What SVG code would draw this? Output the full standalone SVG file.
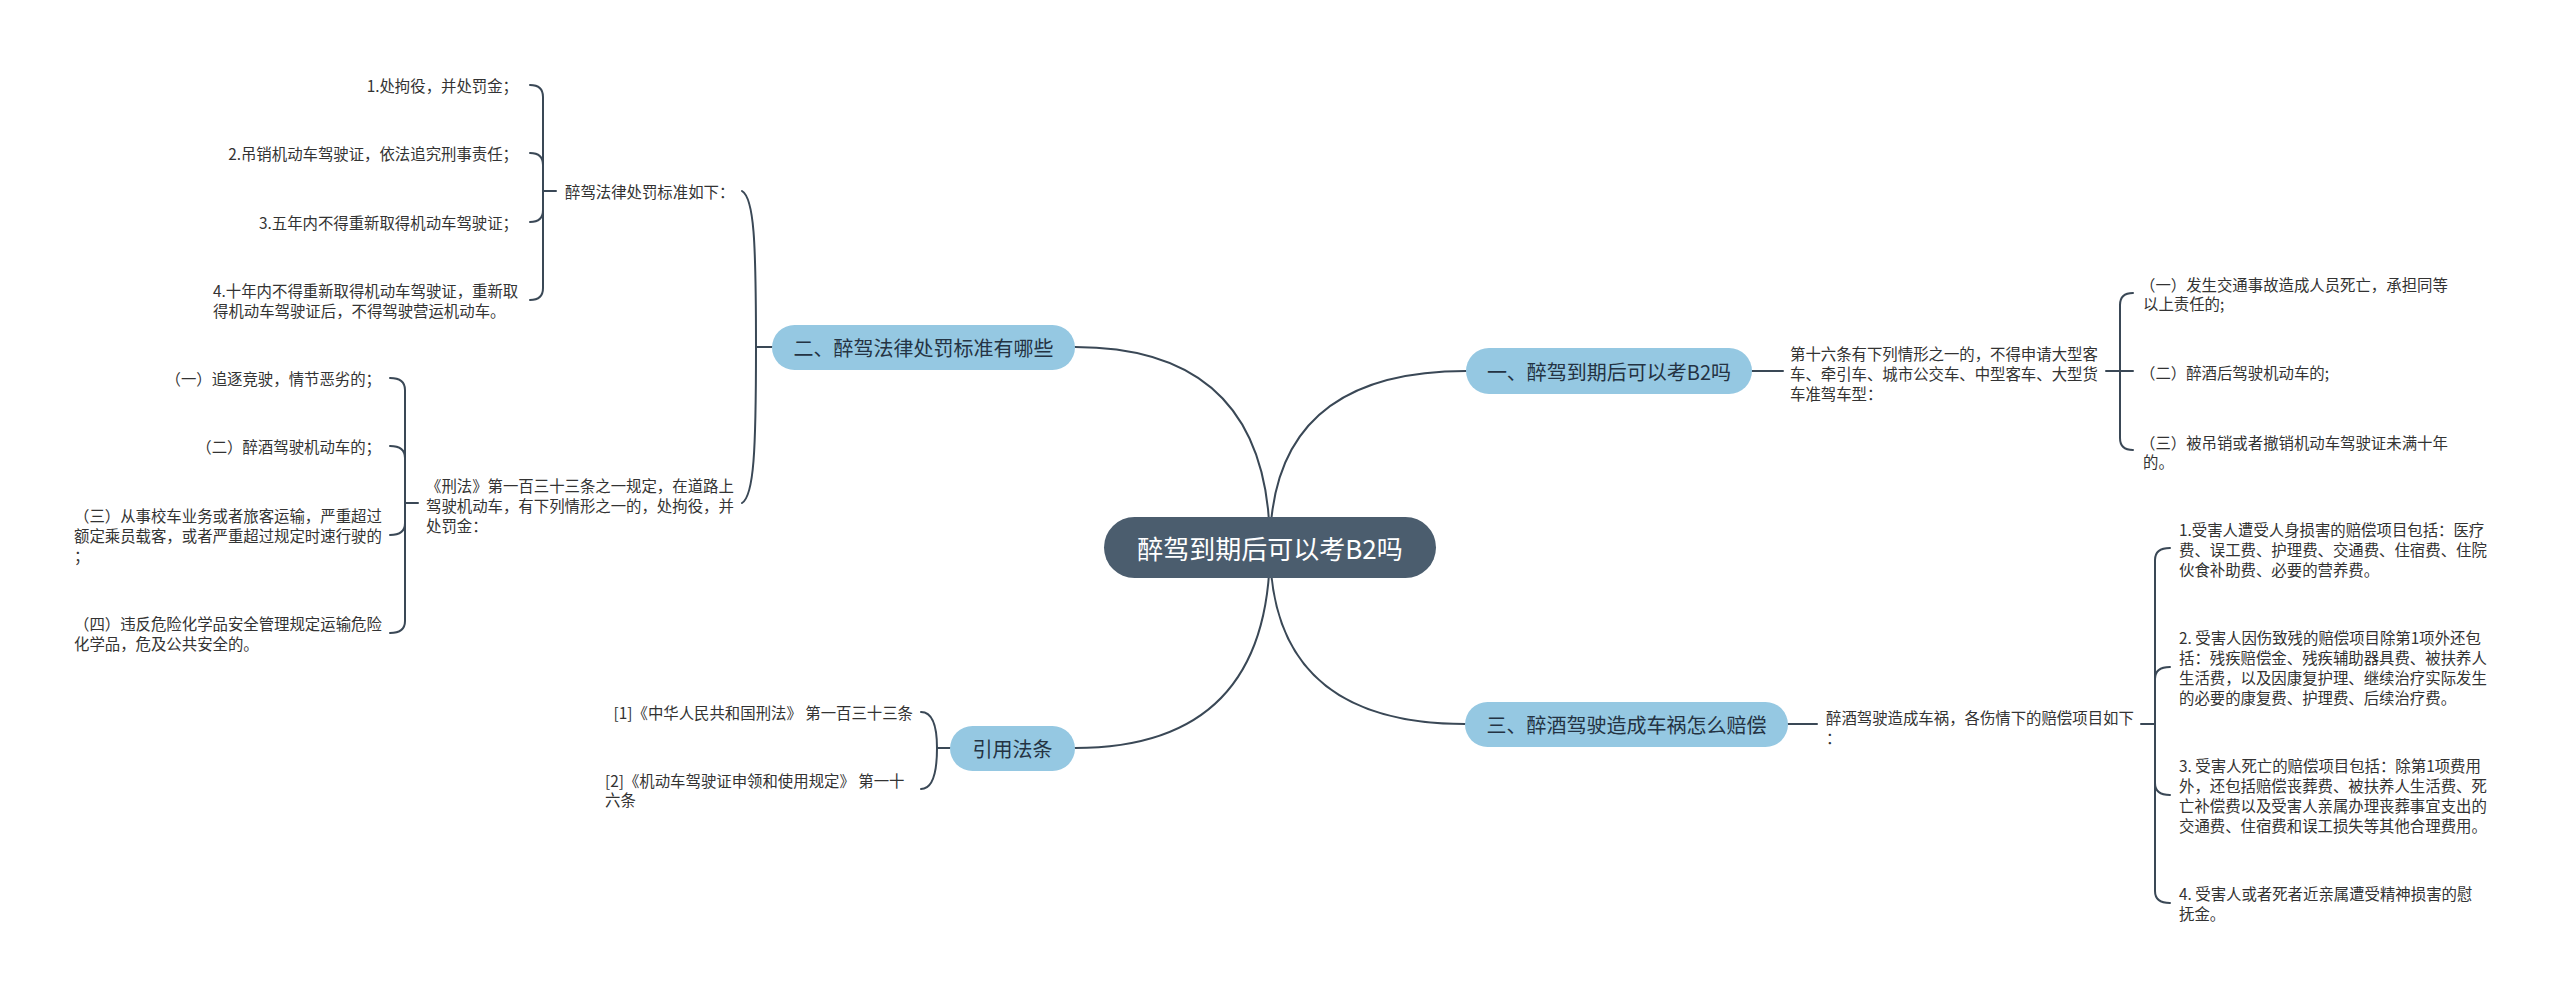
<svg xmlns="http://www.w3.org/2000/svg" width="2560" height="995" viewBox="0 0 2560 995">
<style>
text{font-family:"Noto Sans CJK SC","Noto Sans",sans-serif;dominant-baseline:central}
.leaf{font-size:15.4px;fill:#333}
.r{text-anchor:end}
.br{fill:#95c8e2}
.bt{font-size:20px;fill:#243343;text-anchor:middle}
.ct{font-size:26px;fill:#fff;text-anchor:middle}
.ln{fill:none;stroke:#3a4856;stroke-width:2;stroke-linecap:round}
</style>
<rect width="2560" height="995" fill="#fff"/>
<g id="connectors">
<path class="ln" d="M1270,547 Q1270,347 1075,347"/>
<path class="ln" d="M1270,547 Q1270,371 1466,371"/>
<path class="ln" d="M1270,547 Q1270,724 1465,724"/>
<path class="ln" d="M1270,547 Q1270,748 1075,748"/>
<path class="ln" d="M772,347 H756"/>
<path class="ln" d="M756,347 C756,240 754,198 742,191"/>
<path class="ln" d="M756,347 C756,450 754,496 742,503"/>
<path class="ln" d="M556,191 H543"/>
<path class="ln" d="M543,191 V97 Q543,85 530,85"/>
<path class="ln" d="M543,191 V165 Q543,153 530,153"/>
<path class="ln" d="M543,191 V210 Q543,222 530,222"/>
<path class="ln" d="M543,191 V288 Q543,300 530,300"/>
<path class="ln" d="M418,503 H405"/>
<path class="ln" d="M405,503 V390 Q405,378 390,378"/>
<path class="ln" d="M405,503 V458 Q405,446 390,446"/>
<path class="ln" d="M405,503 V523 Q405,535 390,535"/>
<path class="ln" d="M405,503 V621 Q405,633 390,633"/>
<path class="ln" d="M950,748 H937"/>
<path class="ln" d="M937,748 Q937,712 921,712"/>
<path class="ln" d="M937,748 Q937,789 921,789"/>
<path class="ln" d="M1752,371 H1783"/>
<path class="ln" d="M2106,371 H2133"/>
<path class="ln" d="M2120,371 V305 Q2120,293 2133,293"/>
<path class="ln" d="M2120,371 V438 Q2120,450 2133,450"/>
<path class="ln" d="M1788,724 H1817"/>
<path class="ln" d="M2141,724 H2155"/>
<path class="ln" d="M2155,724 V560 Q2155,548 2170,548"/>
<path class="ln" d="M2155,724 V679 Q2155,667 2170,667"/>
<path class="ln" d="M2155,724 V783 Q2155,795 2170,795"/>
<path class="ln" d="M2155,724 V891 Q2155,903 2170,903"/>
</g>
<g id="center">
<rect x="1104" y="517" width="332" height="61" rx="30.5" fill="#4b5d6e"/>
<text class="ct" x="1270" y="547.5">醉驾到期后可以考B2吗</text>
</g>
<g id="b1">
<rect class="br" x="1466" y="348" width="286" height="46" rx="23"/>
<text class="bt" x="1609" y="371">一、醉驾到期后可以考B2吗</text>
</g>
<g id="b2">
<rect class="br" x="772" y="325" width="303" height="45" rx="22.5"/>
<text class="bt" x="923.5" y="347.5">二、醉驾法律处罚标准有哪些</text>
</g>
<g id="b3">
<rect class="br" x="1465" y="702" width="323" height="45" rx="22.5"/>
<text class="bt" x="1626.5" y="724.5">三、醉酒驾驶造成车祸怎么赔偿</text>
</g>
<g id="b4">
<rect class="br" x="950" y="726" width="125" height="45" rx="22.5"/>
<text class="bt" x="1012.5" y="748.5">引用法条</text>
</g>
<g id="n-b2-a">
<text class="leaf" x="565" y="191">醉驾法律处罚标准如下：</text>
</g>
<g id="n-b2-a1"><text class="leaf r" x="518" y="85">1.处拘役，并处罚金；</text></g>
<g id="n-b2-a2"><text class="leaf r" x="518" y="153">2.吊销机动车驾驶证，依法追究刑事责任；</text></g>
<g id="n-b2-a3"><text class="leaf r" x="518" y="222">3.五年内不得重新取得机动车驾驶证；</text></g>
<g id="n-b2-a4"><text class="leaf"><tspan x="213" y="290">4.十年内不得重新取得机动车驾驶证，重新取</tspan><tspan x="213" y="310">得机动车驾驶证后，不得驾驶营运机动车。</tspan></text></g>
<g id="n-b2-b">
<text class="leaf"><tspan x="426" y="485">《刑法》第一百三十三条之一规定，在道路上</tspan><tspan x="426" y="505">驾驶机动车，有下列情形之一的，处拘役，并</tspan><tspan x="426" y="525">处罚金：</tspan></text>
</g>
<g id="n-b2-b1"><text class="leaf r" x="381" y="378">（一）追逐竞驶，情节恶劣的；</text></g>
<g id="n-b2-b2"><text class="leaf r" x="381" y="446">（二）醉酒驾驶机动车的；</text></g>
<g id="n-b2-b3"><text class="leaf"><tspan x="74" y="515">（三）从事校车业务或者旅客运输，严重超过</tspan><tspan x="74" y="535">额定乘员载客，或者严重超过规定时速行驶的</tspan><tspan x="74" y="555">；</tspan></text></g>
<g id="n-b2-b4"><text class="leaf"><tspan x="74" y="623">（四）违反危险化学品安全管理规定运输危险</tspan><tspan x="74" y="643">化学品，危及公共安全的。</tspan></text></g>
<g id="n-b4-1"><text class="leaf r" x="913" y="712">[1]《中华人民共和国刑法》 第一百三十三条</text></g>
<g id="n-b4-2"><text class="leaf"><tspan x="605" y="780">[2]《机动车驾驶证申领和使用规定》 第一十</tspan><tspan x="605" y="799">六条</tspan></text></g>
<g id="n-b1-a">
<text class="leaf"><tspan x="1790" y="353">第十六条有下列情形之一的，不得申请大型客</tspan><tspan x="1790" y="373">车、牵引车、城市公交车、中型客车、大型货</tspan><tspan x="1790" y="393">车准驾车型：</tspan></text>
</g>
<g id="n-b1-a1"><text class="leaf"><tspan x="2140" y="284">（一）发生交通事故造成人员死亡，承担同等</tspan><tspan x="2143" y="303">以上责任的;</tspan></text></g>
<g id="n-b1-a2"><text class="leaf" x="2140" y="372">（二）醉酒后驾驶机动车的;</text></g>
<g id="n-b1-a3"><text class="leaf"><tspan x="2140" y="442">（三）被吊销或者撤销机动车驾驶证未满十年</tspan><tspan x="2143" y="461">的。</tspan></text></g>
<g id="n-b3-a">
<text class="leaf"><tspan x="1826" y="717">醉酒驾驶造成车祸，各伤情下的赔偿项目如下</tspan><tspan x="1826" y="737">：</tspan></text>
</g>
<g id="n-b3-a1"><text class="leaf"><tspan x="2179" y="529">1.受害人遭受人身损害的赔偿项目包括：医疗</tspan><tspan x="2179" y="549">费、误工费、护理费、交通费、住宿费、住院</tspan><tspan x="2179" y="569">伙食补助费、必要的营养费。</tspan></text></g>
<g id="n-b3-a2"><text class="leaf"><tspan x="2179" y="637">2. 受害人因伤致残的赔偿项目除第1项外还包</tspan><tspan x="2179" y="657">括：残疾赔偿金、残疾辅助器具费、被扶养人</tspan><tspan x="2179" y="677">生活费，以及因康复护理、继续治疗实际发生</tspan><tspan x="2179" y="697">的必要的康复费、护理费、后续治疗费。</tspan></text></g>
<g id="n-b3-a3"><text class="leaf"><tspan x="2179" y="765">3. 受害人死亡的赔偿项目包括：除第1项费用</tspan><tspan x="2179" y="785">外，还包括赔偿丧葬费、被扶养人生活费、死</tspan><tspan x="2179" y="805">亡补偿费以及受害人亲属办理丧葬事宜支出的</tspan><tspan x="2179" y="825">交通费、住宿费和误工损失等其他合理费用。</tspan></text></g>
<g id="n-b3-a4"><text class="leaf"><tspan x="2179" y="893">4. 受害人或者死者近亲属遭受精神损害的慰</tspan><tspan x="2179" y="913">抚金。</tspan></text></g>
</svg>
